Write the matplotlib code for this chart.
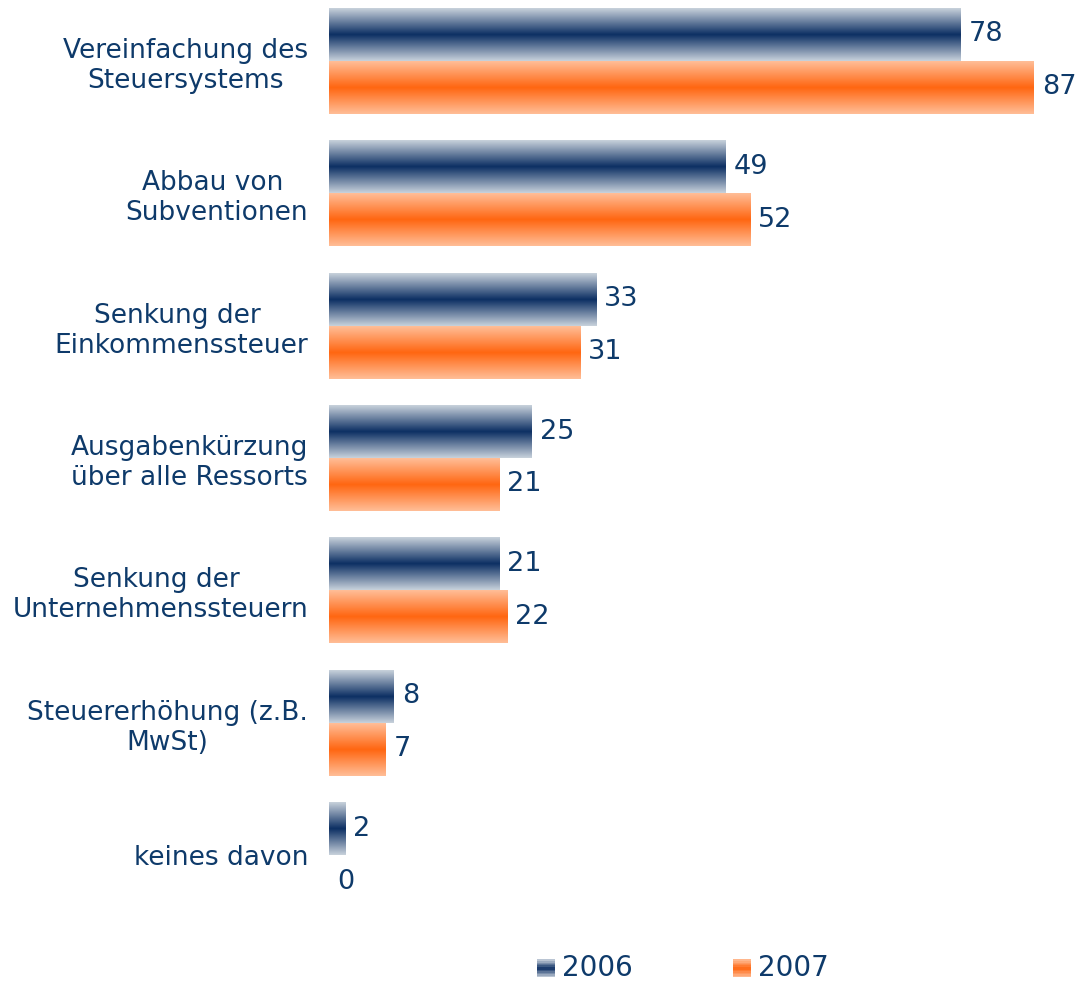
import numpy as np
import matplotlib.pyplot as plt
from matplotlib.colors import LinearSegmentedColormap
from matplotlib.patches import Patch, Rectangle
from matplotlib.legend_handler import HandlerBase

# Daten
kategorien = ["Vereinfachung des\nSteuersystems", "Abbau von \nSubventionen",
              "Senkung der \nEinkommenssteuer", "Ausgabenkürzung\nüber alle Ressorts",
              "Senkung der \nUnternehmenssteuern", "Steuererhöhung (z.B.\nMwSt)",
              "keines davon"]
werte_2006 = [78, 49, 33, 25, 21, 8, 2]
werte_2007 = [87, 52, 31, 21, 22, 7, 0]
jahre = ["2006", "2007"]

textfarbe = "#0E3A6A"
blau = LinearSegmentedColormap.from_list("blau", ["#C9D2DC", "#0C2F63", "#C9D2DC"])
orange = LinearSegmentedColormap.from_list("orange", ["#FFBE98", "#FF6611", "#FFBE98"])


# Legendensymbol mit Farbverlauf (Streifen)
class Verlauf(HandlerBase):
    def __init__(self, cmap):
        super().__init__()
        self.cmap = cmap

    def create_artists(self, legend, orig, xd, yd, w, h, fs, trans):
        n = 12
        out = []
        for i in range(n):
            r = Rectangle((xd, yd + h * i / n), w, h / n + 0.3,
                          facecolor=self.cmap((i + 0.5) / n), edgecolor="none",
                          transform=trans)
            out.append(r)
        return out


fig = plt.figure(figsize=(10.8, 9.83), dpi=100)
ax = fig.add_axes([0.3046, 0.0763, 0.69, 0.9156])

y = np.arange(len(kategorien))
h = 0.4
grad = np.linspace(0, 1, 256).reshape(-1, 1)

for werte, cmap, off in [(werte_2006, blau, -h / 2), (werte_2007, orange, h / 2)]:
    bars = ax.barh(y + off, werte, height=h, color="none", edgecolor="none")
    for b, v in zip(bars, werte):
        x0, y0 = b.get_x(), b.get_y()
        if v > 0:
            im = ax.imshow(grad, cmap=cmap, aspect="auto", interpolation="bilinear",
                           extent=[x0, x0 + b.get_width(), y0 + b.get_height(), y0],
                           zorder=2)
            im.set_clip_path(b)
        ax.text(v + 1.0, y0 + b.get_height() / 2, str(v), va="center", ha="left",
                fontsize=19.5, color=textfarbe)

ax.set_xlim(0, 92)
ax.set_ylim(len(kategorien) - 1 + 0.4, -0.4)
ax.set_yticks(y)
ax.set_yticklabels(kategorien, fontsize=19, color=textfarbe, multialignment="center")
ax.tick_params(axis="y", length=0, pad=15)
ax.set_xticks([])
for s in ax.spines.values():
    s.set_visible(False)

p1 = Patch(label=jahre[0])
p2 = Patch(label=jahre[1])
leg = fig.legend(handles=[p1, p2], loc="center", bbox_to_anchor=(0.632, 0.015), ncol=2,
                 frameon=False, fontsize=20, handlelength=0.65, handleheight=0.6,
                 handletextpad=0.25, columnspacing=3.6,
                 handler_map={p1: Verlauf(blau), p2: Verlauf(orange)})
for t in leg.get_texts():
    t.set_color(textfarbe)

fig.savefig("out.png", dpi=100)
